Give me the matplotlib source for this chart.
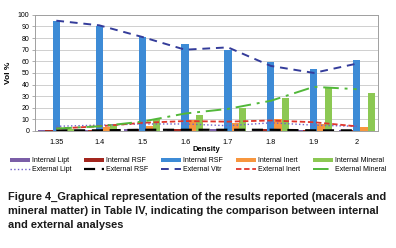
import numpy as np
import matplotlib.pyplot as plt

plt.rcParams['font.family'] = ['Liberation Sans', 'DejaVu Sans']

density = ['1.35', '1.4', '1.5', '1.6', '1.7', '1.8', '1.9', '2']

# internal analyses (bars)
int_lipt = [1.0, 0.5, 1.5, 1.5, 2.0, 1.0, 1.0, 1.0]
int_rsf = [0.5, 1.0, 1.5, 1.5, 1.0, 1.5, 1.0, 1.0]
int_vitr = [95, 90, 81, 75, 70, 59, 53, 61]
int_inert = [1.0, 3.0, 4.0, 9.0, 7.0, 10.0, 6.0, 3.5]
int_mineral = [2.0, 6.0, 10.0, 14.0, 20.0, 28.0, 37.0, 33.0]

# external analyses (lines)
ext_lipt = [4.0, 5.0, 6.0, 6.0, 4.5, 7.0, 5.0, 4.0]
ext_rsf = [0.5, 0.5, 1.0, 1.0, 1.0, 1.0, 0.5, 0.5]
ext_vitr = [95, 91, 81, 70, 72, 56, 50, 58]
ext_inert = [2.0, 4.0, 7.0, 8.5, 8.0, 9.0, 7.5, 4.0]
ext_mineral = [2.0, 4.0, 8.0, 15.0, 19.0, 26.0, 38.0, 36.0]

fig = plt.figure(figsize=(3.96, 2.48), dpi=100)
ax = fig.add_axes([0.088, 0.472, 0.867, 0.468])

x = np.arange(len(density))
w = 0.168
bars = [
    (int_lipt, '#7b5ea7', 'Internal Lipt'),
    (int_rsf, '#a3261e', 'Internal RSF'),
    (int_vitr, '#3d8bd6', 'Internal RSF'),
    (int_inert, '#f7963e', 'Internal Inert'),
    (int_mineral, '#8cc853', 'Internal Mineral'),
]
handles = []
for i, (vals, col, lab) in enumerate(bars):
    b = ax.bar(x + (i - 2) * w, vals, w, color=col, label=lab, zorder=2)
    handles.append(b)

l1, = ax.plot(x, ext_lipt, ':', color='#6f5fc8', lw=1.0, label='External Lipt', zorder=3)
l2, = ax.plot(x, ext_rsf, color='black', lw=1.6, dashes=(5, 3), label='External RSF', zorder=3)
l3, = ax.plot(x, ext_vitr, color='#343c9a', lw=1.4, dashes=(4, 3), label='External Vitr', zorder=3)
l4, = ax.plot(x, ext_inert, color='#e0352b', lw=1.3, dashes=(3, 1.5), label='External Inert', zorder=3)
l5, = ax.plot(x, ext_mineral, color='#52b83a', lw=1.4, dashes=(8, 3, 1.5, 3), label='External Mineral', zorder=3)
lines = [l1, l2, l3, l4, l5]

ax.set_xlim(-0.5, len(density) - 0.5)
ax.set_ylim(0, 100)
ax.set_yticks(np.arange(0, 101, 10))
ax.set_xticks(x)
ax.set_xticklabels(density)
ax.tick_params(axis='y', labelsize=5, length=2, width=0.6, color='#a0a0a0', pad=2)
ax.tick_params(axis='x', labelsize=5.3, length=0, pad=6)
ax.grid(axis='y', color='#c8c8c8', lw=0.6, zorder=0)
for s in ax.spines.values():
    s.set_color('#a0a0a0')
    s.set_linewidth(0.7)
ax.set_xlabel('Density', fontsize=5.5, fontweight='bold', labelpad=0)
ax.set_ylabel('Vol %', fontsize=6, fontweight='bold', labelpad=4)

order = []
for h, l in zip(handles, lines):
    order += [h, l]
fig.legend(order, [o.get_label() for o in order], loc='upper center',
           bbox_to_anchor=(0.5, 1 - 157 / 248), ncol=5, fontsize=5,
           frameon=False, handlelength=2.9, handleheight=0.5,
           columnspacing=1.8, handletextpad=0.3, labelspacing=0.3,
           borderaxespad=0, borderpad=0)

caption = ('Figure 4_Graphical representation of the results reported (macerals and\n'
           'mineral matter) in Table IV, indicating the comparison between internal\n'
           'and external analyses')
fig.text(8 / 396, 1 - 192 / 248, caption, fontsize=7.95, fontweight='bold',
         va='top', ha='left', linespacing=1.5, color='#1a1a1a')

fig.savefig('out.png', dpi=100)
